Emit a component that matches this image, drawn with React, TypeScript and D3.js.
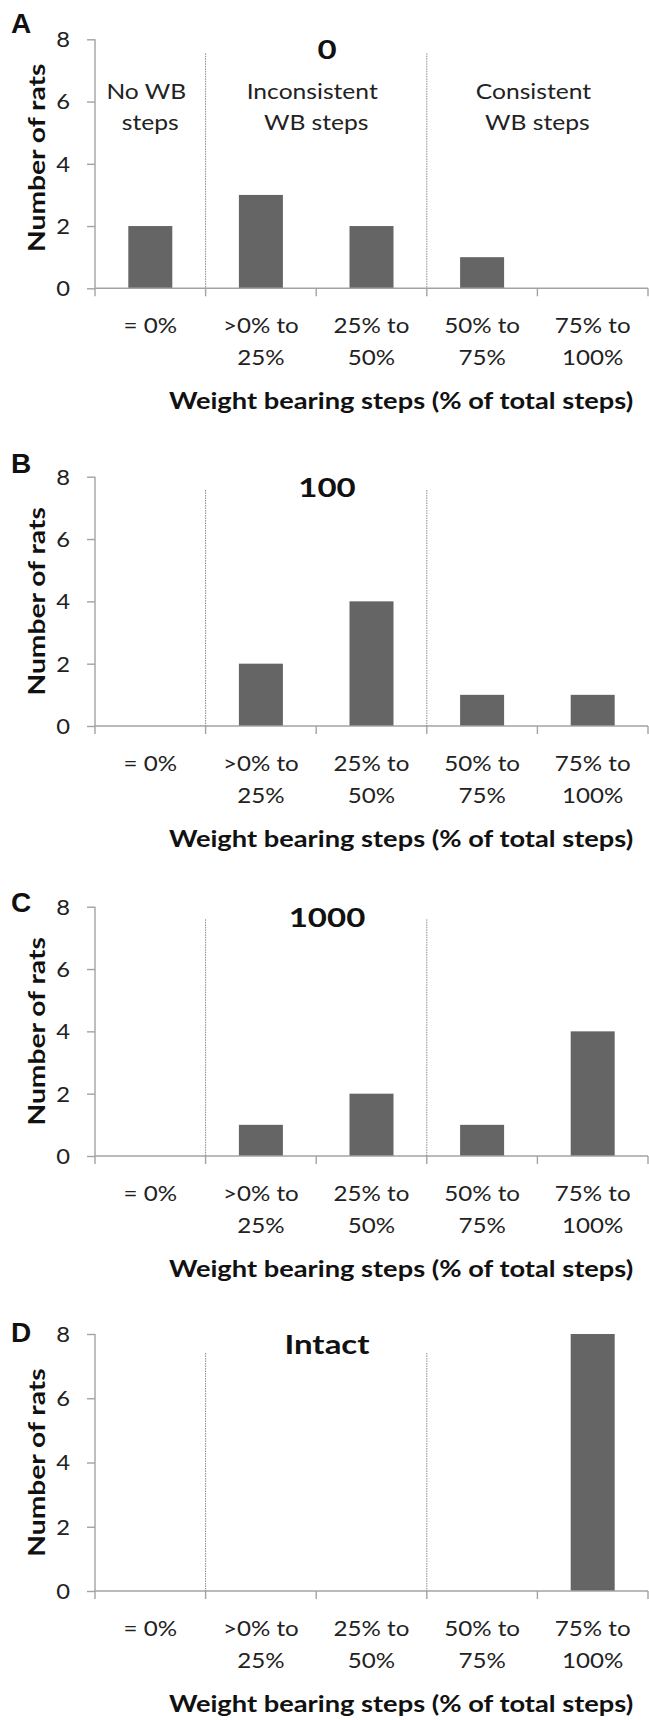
import React, { useEffect, useRef } from "react";
import * as d3 from "d3";

// bins of weight bearing steps
const categories = ["= 0%", ">0% to 25%", "25% to 50%", "50% to 75%", "75% to 100%"];
const categoryLines = [["= 0%"], [">0% to", "25%"], ["25% to", "50%"], ["50% to", "75%"], ["75% to", "100%"]];

// number of rats per bin, one array per panel
const valuesA = [2, 3, 2, 1, 0];
const valuesB = [0, 2, 4, 1, 1];
const valuesC = [0, 1, 2, 1, 4];
const valuesD = [0, 0, 0, 0, 8];

const panelLetters = ["A", "B", "C", "D"];
const panelTitles = ["0", "100", "1000", "Intact"];
const yTicks = [0, 2, 4, 6, 8];

// region labels (panel A only)
const regionLabels = [["No WB", "steps"], ["Inconsistent", "WB steps"], ["Consistent", "WB steps"]];
const regionSpans = [[0, 0], [1, 2], [3, 4]];

const xTitle = "Weight bearing steps (% of total steps)";
const yTitle = "Number of rats";

const FONT = "Lato, 'Open Sans', sans-serif";

const App = () => {
  const svgRef = useRef(null);

  useEffect(() => {
    const svg = d3.select(svgRef.current);
    svg.selectAll("*").remove();

    // text is drawn a little wider than Lato to match the figure's font
    const label = (g, x, y, str, size, sx, bold = false, anchor = "middle") =>
      g.append("text")
        .attr("transform", `translate(${x},${y}) scale(${sx},1)`)
        .attr("text-anchor", anchor)
        .attr("fill", bold ? "#111" : "#222")
        .style("font-family", FONT)
        .style("font-weight", bold ? "bold" : "normal")
        .style("font-size", size + "px")
        .text(str);

    const allValues = [valuesA, valuesB, valuesC, valuesD];
    // layout per panel
    const tops = [39.3, 476.7, 906.7, 1334];
    const bottoms = [288.3, 726, 1156, 1591];
    const letterY = [33, 473, 911.7, 1341.7];
    const dotTops = [53.3, 490, 919.3, 1353];
    const yTitleShift = [-6, 0, 0, 0];
    const left = 95, right = 648;

    const x = d3.scaleBand().domain(categories).range([left, right]).padding(0);
    const barW = 44;

    allValues.forEach((vals, p) => {
      const g = svg.append("g");
      const y = d3.scaleLinear().domain([0, 8]).range([bottoms[p], tops[p]]);

      // bars
      g.selectAll(".bar")
        .data(vals)
        .enter()
        .append("rect")
        .attr("x", (d, i) => x(categories[i]) + x.bandwidth() / 2 - barW / 2)
        .attr("y", d => y(d))
        .attr("width", barW)
        .attr("height", d => y(0) - y(d))
        .attr("fill", "#656565");

      // y axis
      const yAxis = g.append("g")
        .attr("transform", `translate(${left},0)`)
        .call(d3.axisLeft(y).tickValues(yTicks).tickSize(8).tickFormat(d3.format("d")));
      yAxis.select(".domain").attr("stroke", "#a3a3a3").attr("stroke-width", 1.4).attr("d", `M0,${y(8)}H0V${y(0)}`);
      yAxis.selectAll(".tick line").attr("stroke", "#a3a3a3").attr("stroke-width", 1.4);
      yAxis.selectAll(".tick text")
        .attr("x", 0)
        .attr("dy", "0.36em")
        .attr("transform", "translate(-25,0) scale(1.16,1)")
        .attr("fill", "#222")
        .style("font-family", FONT)
        .style("font-size", "20.5px");

      // x axis line + ticks at band edges
      g.append("line")
        .attr("x1", left).attr("x2", right)
        .attr("y1", y(0)).attr("y2", y(0))
        .attr("stroke", "#a3a3a3").attr("stroke-width", 1.4);
      const edges = categories.map(c => x(c)).concat([right]);
      g.selectAll(".xtick")
        .data(edges)
        .enter()
        .append("line")
        .attr("x1", d => d).attr("x2", d => d)
        .attr("y1", y(0)).attr("y2", y(0) + 8)
        .attr("stroke", "#a3a3a3").attr("stroke-width", 1.4);

      // category labels
      categoryLines.forEach((lines, i) => {
        lines.forEach((ln, k) => {
          label(g, x(categories[i]) + x.bandwidth() / 2, y(0) + 45 + k * 32, ln, 21, 1.15);
        });
      });

      // dotted separators
      [x(categories[1]), x(categories[3])].forEach(xx => {
        g.append("line")
          .attr("x1", xx).attr("x2", xx)
          .attr("y1", dotTops[p]).attr("y2", y(0))
          .attr("stroke", "#8a8a8a")
          .attr("stroke-width", 1)
          .attr("stroke-dasharray", "1.5,1");
      });

      // title
      label(g, 327, tops[p] + 20, panelTitles[p], 27.5, 1.2, true);

      // panel letter
      g.append("text")
        .attr("x", 11)
        .attr("y", letterY[p])
        .attr("fill", "#111")
        .style("font-family", "'Liberation Sans', Arial, sans-serif")
        .style("font-weight", "bold")
        .style("font-size", "28px")
        .text(panelLetters[p]);

      // x axis title
      label(g, 401, y(0) + 121, xTitle, 22, 1.24, true);

      // y axis title
      const yc = (tops[p] + bottoms[p]) / 2 + yTitleShift[p];
      g.append("text")
        .attr("transform", `translate(45,${yc}) scale(1,1.2) rotate(-90)`)
        .attr("text-anchor", "middle")
        .attr("fill", "#111")
        .style("font-family", FONT)
        .style("font-weight", "bold")
        .style("font-size", "23.5px")
        .text(yTitle);

      // region labels on first panel
      if (p === 0) {
        regionLabels.forEach((lines, r) => {
          const [a, b] = regionSpans[r];
          const cx = (x(categories[a]) + x(categories[b]) + x.bandwidth()) / 2 - 4;
          lines.forEach((ln, k) => {
            label(g, cx + k * 4, 99.3 + k * 31, ln, 22, 1.12);
          });
        });
      }
    });
  }, []);

  return (
    <div style={{ position: "absolute", left: 0, top: 0 }}>
      <svg ref={svgRef} width={649} height={1720} style={{ display: "block", background: "#fff" }}></svg>
    </div>
  );
};

export default App;
